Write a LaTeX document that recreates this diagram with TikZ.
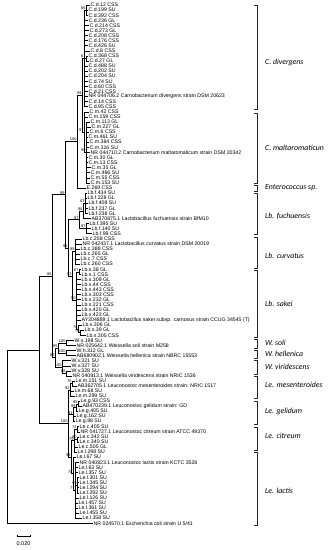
\documentclass[tikz,border=0pt]{standalone}
\usepackage{fontspec}
\newfontfamily\arialfont{Liberation Sans}
\newfontfamily\calfont{Carlito}

\tikzset{
  branch/.style={draw=black, line width=0.35pt},
  leaf/.style={anchor=west, inner sep=0.5pt, font=\arialfont\fontsize{5.2}{5.6}\selectfont},
  boot/.style={anchor=south east, inner sep=0.3pt, font=\arialfont\fontsize{3.9}{4.2}\selectfont},
  clade/.style={anchor=west, inner sep=0pt, font=\calfont\itshape\fontsize{7.8}{9}\selectfont},
  bracket/.style={draw=black!85, line width=0.5pt},
}

\begin{document}
\begin{tikzpicture}[x=1pt, y=-1pt]
        \useasboundingbox (0,0) rectangle (335,550);
        % Internal nodes
        \coordinate (root) at (7,436.43);
        \coordinate (ingroup) at (39,349.72);
        \coordinate (xnode) at (52,276.0);
        \coordinate (grp) at (65,194.6);
        \coordinate (ce) at (77,141.5);
        \coordinate (carno) at (82,95.17);
        \coordinate (cdiv) at (84,58.34);
        \coordinate (c66) at (86,10.08);
        \coordinate (c61) at (86,58.34);
        \coordinate (cmal) at (84,132.0);
        \coordinate (cm99) at (86,152.32);
        \coordinate (lb) at (68,247.73);
        \coordinate (fuch) at (79,219.63);
        \coordinate (f96) at (83,210.74);
        \coordinate (f63) at (85,203.12);
        \coordinate (f97) at (86,228.52);
        \coordinate (cs) at (72,275.83);
        \coordinate (cur) at (75,251.38);
        \coordinate (sak) at (76,300.28);
        \coordinate (s67) at (79,271.7);
        \coordinate (s76) at (78,328.85);
        \coordinate (s79) at (80,332.66);
        \coordinate (weis) at (55,357.43);
        \coordinate (wsh) at (58,347.9);
        \coordinate (ws) at (66,342.82);
        \coordinate (wh) at (66,352.98);
        \coordinate (wv) at (62,366.95);
        \coordinate (wv66) at (66,373.3);
        \coordinate (leu) at (68,423.47);
        \coordinate (mes) at (70,389.81);
        \coordinate (m76) at (72,383.46);
        \coordinate (gel) at (73,414.58);
        \coordinate (g99) at (76,407.59);
        \coordinate (g95) at (78,403.78);
        \coordinate (cit) at (74,440.61);
        \coordinate (c72) at (77,429.18);
        \coordinate (c90) at (77,439.34);
        \coordinate (cl) at (71,457.12);
        \coordinate (lac) at (73,473.63);
        \coordinate (l77) at (75,490.14);
        \coordinate (l55) at (77,485.06);
        % Inner branches
        \foreach \pa/\ch in {root/ingroup, ingroup/xnode, ingroup/leu, xnode/grp, xnode/weis,
            grp/ce, grp/lb, ce/carno, carno/cdiv, carno/cmal, cdiv/c66, cdiv/c61, cmal/cm99,
            lb/fuch, lb/cs, fuch/f96, fuch/f97, f96/f63, cs/cur, cs/sak, sak/s67, sak/s76, s76/s79,
            weis/wsh, weis/wv, wsh/ws, wsh/wh, wv/wv66,
            leu/mes, leu/gel, leu/cl, mes/m76, gel/g99, g99/g95,
            cl/cit, cl/lac, cit/c72, cit/c90, lac/l77, l77/l55}
            \draw[branch] (\pa) |- (\ch);
        % Leaves
        \foreach \n/\tx/\pa/\lab in {
            1/90/c66/C.d.12 CSS, 2/88/c66/C.d.199 SU, 3/88/c66/C.d.392 CSS,
            4/88/cdiv/C.d.236 GL, 5/89/cdiv/C.d.214 CSS, 6/89/cdiv/C.d.273 GL,
            7/88/cdiv/C.d.208 CSS, 8/88/cdiv/C.d.176 CSS, 9/88/cdiv/C.d.426 SU,
            10/90/cdiv/C.d.8 CSS, 11/88/c61/C.d.368 CSS, 12/89/c61/C.d.27 GL,
            13/88/cdiv/C.d.488 SU, 14/88/cdiv/C.d.202 SU, 15/88/cdiv/C.d.204 SU,
            16/88/cdiv/C.d.74 SU, 17/88/cdiv/C.d.60 CSS, 18/88/cdiv/C.d.21 CSS,
            19/88/cdiv/NR 044706.2 Carnobacterium divergens strain DSM 20623,
            20/88/cdiv/C.d.14 CSS, 21/88/cdiv/C.d.95 CSS,
            22/89/cmal/C.m.42 CSS, 23/88/cmal/C.m.159 CSS,
            24/90/cm99/C.m.113 GL, 25/91/cm99/C.m.227 GL, 26/89/cm99/C.m.6 CSS,
            27/88/cm99/C.m.461 SU, 28/89/cm99/C.m.384 CSS, 29/89/cm99/C.m.316 SU,
            30/90/cm99/NR 044710.2 Carnobacterium maltaromaticum strain DSM 20342,
            31/88/cm99/C.m.30 GL, 32/88/cm99/C.m.13 CSS, 33/91/cm99/C.m.35 GL,
            34/90/cm99/C.m.466 SU, 35/90/cm99/C.m.55 CSS, 36/90/cm99/C.m.153 SU,
            37/86/ce/E.269 CSS}
        {
            \node[leaf] (L\n) at (\tx,{5+(\n-1)*5.08}) {\lab};
            \draw[branch] (\pa) |- (L\n.west);
        }
        \foreach \n/\tx/\pa/\lab in {
            38/87/f63/Lb.f.434 SU, 39/87/f63/Lb.f.228 GL, 40/88/f63/Lb.f.408 SU,
            41/88/f63/Lb.f.237 GL, 42/88/f63/Lb.f.238 GL,
            43/91/f96/AB370875.1 Lactobacillus fuchuensis strain BfM10,
            44/89/f97/Lb.f.395 SU, 45/91/f97/Lb.f.140 SU, 46/92/f97/Lb.f.99 CSS,
            47/82/cur/Lb.c.258 CSS,
            48/82/cur/NR 042437.1 Lactobacillus curvatus strain DSM 20019,
            49/80/cur/Lb.c.388 CSS, 50/80/cur/Lb.c.265 GL, 51/80/cur/Lb.c.7 CSS,
            52/80/cur/Lb.c.260 CSS,
            53/81/s67/Lb.s.38 GL, 54/81/s67/Lb.s.1 CSS, 55/81/sak/Lb.s.309 GL,
            56/81/sak/Lb.s.44 CSS, 57/81/sak/Lb.s.443 CSS, 58/81/sak/Lb.s.303 CSS,
            59/81/sak/Lb.s.232 GL, 60/81/sak/Lb.s.221 CSS, 61/81/sak/Lb.s.420 GL,
            62/81/sak/Lb.s.423 GL,
            63/81/sak/AY204889.1 Lactobacillus sakei subsp. carnosus strain CCUG 34545 (T),
            64/82/s76/Lb.s.306 GL, 65/84/s79/Lb.s.39 GL, 66/86/s79/Lb.s.305 CSS}
        {
            \node[leaf] (L\n) at (\tx,{5+(\n-1)*5.08}) {\lab};
            \draw[branch] (\pa) |- (L\n.west);
        }
        \foreach \n/\tx/\pa/\lab in {
            67/74/ws/W.s.198 SU, 68/76/ws/NR 025642.1 Weissella soli strain M258,
            69/76/wh/W.h.312 GL, 70/76/wh/AB680902.1 Weissella hellenica strain NBRC 15553,
            71/71/wv/W.v.321 SU, 72/71/wv/W.v.327 SU, 73/71/wv66/W.v.328 SU,
            74/72/wv66/NR 040813.1 Weissella viridescens strain NRIC 1536,
            75/75/m76/Le.m.151 SU,
            76/77/m76/AB362705.1 Leuconostoc mesenteroides strain: NRIC 1517,
            77/74/mes/Le.m.68 SU, 78/75/mes/Le.m.299 SU,
            79/80/g95/Le.g.93 CSS, 80/82/g95/AB470239.1 Leuconostoc gelidum strain: GD,
            81/78/g99/Le.g.405 SU, 82/76/gel/Le.g.162 SU, 83/75/gel/Le.g.88 SU,
            84/79/c72/Le.c.405 SU,
            85/80/c72/NR 041727.1 Leuconostoc citreum strain ATCC 49370,
            86/79/c90/Le.c.342 SU, 87/79/c90/Le.c.340 SU, 88/78/cit/Le.c.505 GL,
            89/77/cit/Le.l.298 SU, 90/76/lac/Le.l.67 SU,
            91/79/l77/NR 040823.1 Leuconostoc lactis strain KCTC 3528,
            92/78/l77/Le.l.63 SU, 93/78/l77/Le.l.357 SU,
            94/79/l55/Le.l.301 SU, 95/79/l55/Le.l.345 SU, 96/79/l55/Le.l.294 SU,
            97/79/l55/Le.l.292 SU, 98/79/l77/Le.l.126 SU, 99/78/l77/Le.l.457 SU,
            100/78/l77/Le.l.361 SU, 101/79/l77/Le.l.455 SU, 102/82/l77/Le.l.358 SU}
        {
            \node[leaf] (L\n) at (\tx,{5+(\n-1)*5.08}) {\lab};
            \draw[branch] (\pa) |- (L\n.west);
        }
        % Outgroup
        \node[leaf] (L103) at (93,523.16) {NR 024570.1 Escherichia coli strain U 5/41};
        \draw[branch] (root) |- (L103.west);
        % Bootstrap values
        \foreach \cn/\bv in {c66/66, c61/61, carno/99, cmal/97, cm99/99, ce/100, grp/99,
            f63/63, f96/96, f97/97, fuch/97, lb/96, cur/99, cs/92, sak/90, s67/67, s76/76, s79/79,
            xnode/86, ws/100, wh/100, wsh/95, wv/100, wv66/66, weis/87,
            m76/76, mes/92, g95/95, g99/99, gel/91, c72/72, c90/90, cit/79,
            l55/55, l77/77, lac/78, cl/93, leu/100}
            \node[boot] (b-\cn) at (\cn) {\bv};
        % Species brackets
        \foreach \ya/\yb/\ly/\nm [count=\i] in {5/109/62/C. divergens,
            113/183/148/C. maltaromaticun, 185/191/188/Enterococcus sp.,
            193/234/216/Lb. fuchuensis, 237/268/256/Lb. curvatus, 270/337/304/Lb. sakei,
            339/348/343/W. soli, 350/358/354/W. hellenica, 360/374/367/W. viridescens,
            376/398/385/Le. mesenteroides, 401/424/411/Le. gelidum,
            427/450/436/Le. citreum, 452/525/491/Le. lactis}
        {
            \draw[bracket] (254,\ya) -- (257,\ya) -- (257,\yb) -- (254,\yb);
            \node[clade] (clade\i) at (265,\ly) {\nm};
        }
        % Scale bar
        \coordinate (sb-a) at (17,536);
        \coordinate (sb-b) at (30,536);
        \draw[branch] (sb-a) -- (sb-b);
        \draw[branch] (sb-a) ++(0,-1) -- ++(0,2);
        \draw[branch] (sb-b) ++(0,-1) -- ++(0,2);
        \node[font=\arialfont\fontsize{5.5}{6}\selectfont] (sb-lab) at (23.5,544) {0.020};
\end{tikzpicture}
\end{document}
